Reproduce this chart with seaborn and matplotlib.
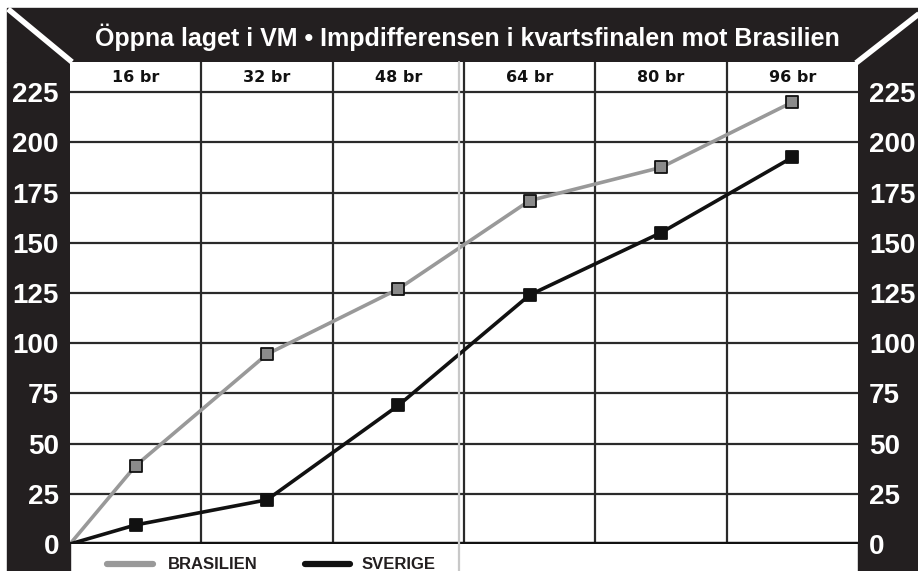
import numpy as np
import pandas as pd
import matplotlib.pyplot as plt
import seaborn as sns
from matplotlib.patches import Rectangle
from matplotlib.lines import Line2D

# Impdifferens efter varje segment (läst ur bilden)
segments = ['16 br', '32 br', '48 br', '64 br', '80 br', '96 br']
brasilien = [39, 94.5, 127, 171, 187.5, 220]
sverige = [9.5, 22, 69, 124, 155, 192.5]
yticks = [0, 25, 50, 75, 100, 125, 150, 175, 200, 225]
title = 'Öppna laget i VM • Impdifferensen i kvartsfinalen mot Brasilien'

sns.set_theme(style='white')
plt.rcParams['font.family'] = ['Liberation Sans', 'DejaVu Sans']

W, H = 918, 571
fig = plt.figure(figsize=(W / 100, H / 100), dpi=100)
fig.patch.set_facecolor('white')

def fx(x):
    return x / W

def fy(y):
    return 1 - y / H

# svart ram: topp-band och sidokolumner (under axlarna så att etiketterna syns)
for x0, y0, x1, y1 in [(7, 8, 918, 62), (7, 62, 70, 571), (858, 62, 918, 571)]:
    fig.patches.append(Rectangle((fx(x0), fy(y1)), fx(x1) - fx(x0), fy(y0) - fy(y1),
                                 transform=fig.transFigure, color='#231f20', zorder=-2))
# vita diagonala hörnlinjer
fig.lines.append(Line2D([fx(8), fx(72)], [fy(9), fy(62)], transform=fig.transFigure,
                        color='white', lw=4, solid_capstyle='butt', zorder=-1))
fig.lines.append(Line2D([fx(856), fx(920)], [fy(63), fy(13)], transform=fig.transFigure,
                        color='white', lw=4, solid_capstyle='butt', zorder=-1))

fig.text(fx(467), fy(37), title, color='white', fontsize=18, fontweight='bold',
         ha='center', va='center')

ax = fig.add_axes([fx(70), fy(544), fx(858) - fx(70), fy(62) - fy(544)])
ax.set_facecolor('white')

rows = []
for name, vals in [('BRASILIEN', brasilien), ('SVERIGE', sverige)]:
    rows.append({'lag': name, 'pos': 0.0, 'imp': 0.0, 'mark': False})
    for i, v in enumerate(vals):
        rows.append({'lag': name, 'pos': i + 0.5, 'imp': v, 'mark': True})
df = pd.DataFrame(rows)

colors = {'BRASILIEN': '#999999', 'SVERIGE': '#111111'}
fills = {'BRASILIEN': '#8a8a8a', 'SVERIGE': '#111111'}

# rutnät
for y in yticks[1:]:
    ax.axhline(y, color='#2a2a2a', lw=1.6, zorder=1)
for i in range(1, len(segments)):
    ax.axvline(i, color='#2a2a2a', lw=1.6, zorder=1)
ax.axhline(0, color='#111111', lw=3.2, zorder=2)

sns.lineplot(data=df, x='pos', y='imp', hue='lag', palette=colors, linewidth=2.6,
             sort=False, legend=False, ax=ax, zorder=3)
for name in ['BRASILIEN', 'SVERIGE']:
    sub = df[(df['lag'] == name) & df['mark']]
    sns.scatterplot(data=sub, x='pos', y='imp', marker='s', s=85, color=fills[name],
                    edgecolor='#111111', linewidth=1.3, ax=ax, zorder=4, legend=False)

for i, seg in enumerate(segments):
    ax.text(i + 0.5, 232.5, seg, ha='center', va='center', fontsize=11.5,
            fontweight='bold', family='DejaVu Sans', color='#111111')

ax.set_xlim(0, len(segments))
ax.set_ylim(0, 240)
ax.set_yticks(yticks)
ax.set_yticklabels([str(t) for t in yticks])
ax.set_xticks([])
ax.set_xlabel('')
ax.set_ylabel('')
ax.tick_params(axis='y', length=0, labelleft=True, labelright=True, pad=8,
               labelcolor='white', labelsize=20)
for lab in ax.get_yticklabels():
    lab.set_fontweight('bold')
for sp in ax.spines.values():
    sp.set_visible(False)

# tunn grå vikningslinje
fig.lines.append(Line2D([fx(459), fx(459)], [fy(62), fy(571)], transform=fig.transFigure,
                        color='#c8c8c8', lw=1.6, zorder=5))

# förklaring längst ned
fig.lines.append(Line2D([fx(107), fx(153)], [fy(564), fy(564)], transform=fig.transFigure,
                        color='#999999', lw=4.5))
fig.text(fx(168), fy(569), 'BRASILIEN', color='#231f20', fontsize=12, fontweight='bold',
         ha='left', va='baseline')
fig.lines.append(Line2D([fx(305), fx(350)], [fy(564), fy(564)], transform=fig.transFigure,
                        color='#111111', lw=4.5))
fig.text(fx(362), fy(569), 'SVERIGE', color='#231f20', fontsize=12, fontweight='bold',
         ha='left', va='baseline')

fig.savefig('out.png', dpi=100, facecolor=fig.get_facecolor())
